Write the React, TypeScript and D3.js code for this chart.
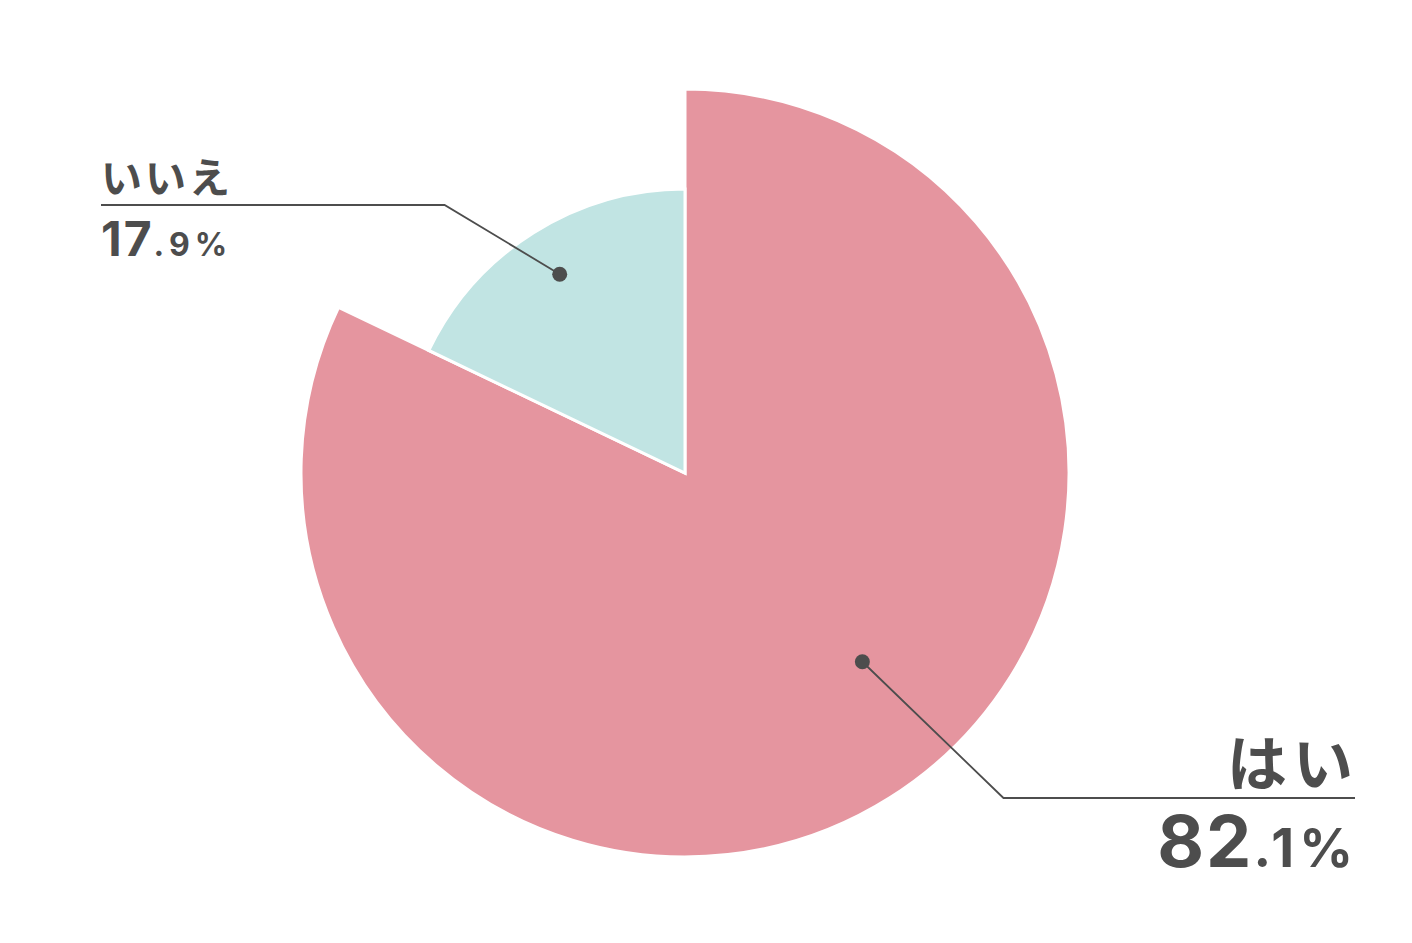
import React from "react";
import * as d3 from "d3";

const categories = ["はい", "いいえ"];
const values = [82.1, 17.9];
const intLabels = ["82", "17"];
const decLabels = [".1", ".9"];
const colors = ["#e5959f", "#c1e4e3"];

const W = 1412;
const H = 943;
const cx = 685;
const cy = 473;
const radii = [384, 284];
const TEXT = "#4d4d4d";

// annotation layout (label side, line y, dot placement)
const labelLayout = [
  { side: "right", dotAngleOffset: -11, dotR: 259, lineY: 798, lineEndX: 1355, nameSize: 60, intSize: 72, decSize: 53, nameBase: 786, numBase: 867, nameSpacing: 6, intSpacing: 2, decSpacing: 5 },
  { side: "left", dotAngleOffset: 0, dotR: 235, lineY: 205, lineEndX: 101, nameSize: 41, intSize: 48, decSize: 32, nameBase: 193, numBase: 256, nameSpacing: 3, intSpacing: 2, decSpacing: 5 },
];

export default function App() {
  const pie = d3.pie<number>().sort(null).value((d) => d);
  const arcs = pie(values);
  const numFont = "Inter, 'Liberation Sans', Arial, sans-serif";
  const jpFont = "'Noto Sans CJK JP', sans-serif";

  return (
    <svg width={W} height={H} style={{ position: "absolute", left: 0, top: 0, background: "#fff" }}>
      <g transform={`translate(${cx},${cy})`}>
        {arcs.map((a, i) => {
          const arc = d3.arc<any>().innerRadius(0).outerRadius(radii[i]);
          return <path key={i} d={arc(a) || ""} fill={colors[i]} stroke="#fff" strokeWidth={3} strokeLinejoin="miter" />;
        })}
      </g>
      {arcs.map((a, i) => {
        const L = labelLayout[i];
        const mid = (a.startAngle + a.endAngle) / 2 + (L.dotAngleOffset * Math.PI) / 180;
        const dx = cx + L.dotR * Math.sin(mid);
        const dy = cy - L.dotR * Math.cos(mid);
        const slope = i === 0 ? Math.tan((44 * Math.PI) / 180) : Math.tan((31 * Math.PI) / 180);
        const ex = L.side === "right" ? dx + (L.lineY - dy) / slope : dx - (dy - L.lineY) / slope;
        const right = L.side === "right";
        const anchor = right ? "end" : "start";
        const tx = right ? L.lineEndX - 2 : L.lineEndX;
        return (
          <g key={"l" + i}>
            <polyline
              points={`${dx},${dy} ${ex},${L.lineY} ${L.lineEndX},${L.lineY}`}
              fill="none"
              stroke={TEXT}
              strokeWidth={1.8}
            />
            <circle cx={dx} cy={dy} r={7.5} fill={TEXT} />
            <text
              x={right ? tx + L.nameSpacing : tx}
              y={L.nameBase}
              textAnchor={anchor}
              fontFamily={jpFont}
              fontWeight={700}
              fontSize={L.nameSize}
              fill={TEXT}
              letterSpacing={L.nameSpacing}
            >
              {categories[i]}
            </text>
            <text
              x={right ? tx + L.decSpacing : tx}
              y={L.numBase}
              textAnchor={anchor}
              fontFamily={numFont}
              fontWeight={700}
              fill={TEXT}
            >
              <tspan fontSize={L.intSize} letterSpacing={L.intSpacing}>{intLabels[i]}</tspan>
              <tspan fontSize={L.decSize} letterSpacing={L.decSpacing}>{decLabels[i] + "%"}</tspan>
            </text>
          </g>
        );
      })}
    </svg>
  );
}
